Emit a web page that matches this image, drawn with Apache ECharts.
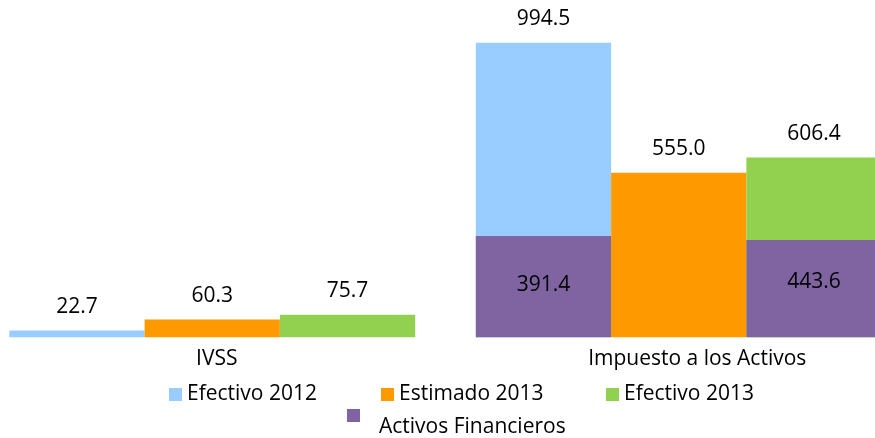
<!DOCTYPE html>
<html>
<head>
<meta charset="utf-8">
<script src="https://cdn.jsdelivr.net/npm/echarts@6/dist/echarts.min.js"></script>
<style>
  html, body { margin: 0; padding: 0; background: #fff; }
  #chart { width: 875px; height: 438px; }
</style>
</head>
<body>
<div id="chart"></div>
<script>
const categories = ['IVSS', 'Impuesto a los Activos'];
const efectivo2012 = [22.7, 994.5];
const estimado2013 = [60.3, 555.0];
const efectivo2013 = [75.7, 606.4];
// printed values of the purple blocks
const activosFinancieros = [391.4, 443.6];
// heights of the purple blocks as they are drawn in the picture (Impuesto only)
const activosBajoEfectivo2012 = [null, 342];
const activosBajoEfectivo2013 = [null, 328];

const font = 'Open Sans';
const chart = echarts.init(document.getElementById('chart'));

const topLabel = {
  show: true,
  position: 'top',
  distance: 13,
  color: '#000',
  fontFamily: font,
  fontSize: 21,
  formatter: (p) => p.value.toFixed(1),
};

const legendBase = {
  orient: 'horizontal',
  padding: 0,
  icon: 'rect',
  itemWidth: 13,
  itemHeight: 13,
  selectedMode: false,
  textStyle: { color: '#000', fontFamily: font, fontSize: 21 },
};

const xAxisBase = {
  type: 'category',
  data: categories,
  axisLine: { show: false },
  axisTick: { show: false },
};

chart.setOption({
  animation: false,
  grid: { left: -21, right: -37, top: 41, bottom: 100.7, outerBoundsMode: 'none', containLabel: false },
  legend: [
    Object.assign({}, legendBase, { left: 169, top: 384, data: ['Efectivo 2012'] }),
    Object.assign({}, legendBase, { left: 381, top: 384, data: ['Estimado 2013'] }),
    Object.assign({}, legendBase, { left: 606, top: 384, data: ['Efectivo 2013'] }),
    Object.assign({}, legendBase, {
      left: 347,
      top: 409,
      data: ['Activos Financieros'],
      formatter: '{t|{name}}',
      textStyle: {
        color: '#000',
        fontFamily: font,
        fontSize: 21,
        rich: {
          t: { color: '#000', fontFamily: font, fontSize: 21, padding: [24, 0, 0, 14] },
        },
      },
    }),
  ],
  xAxis: [
    Object.assign({}, xAxisBase, {
      data: [
        { value: categories[0], textStyle: { padding: [0, 0, 0, 9] } },
        { value: categories[1], textStyle: { padding: [0, 0, 0, 37] } },
      ],
      axisLabel: { color: '#000', fontFamily: font, fontSize: 21, margin: 11 },
    }),
    Object.assign({}, xAxisBase, { show: false }),
  ],
  yAxis: {
    type: 'value',
    min: 0,
    max: 1000,
    show: false,
    splitLine: { show: false },
  },
  series: [
    {
      name: 'Efectivo 2012',
      type: 'bar',
      data: efectivo2012,
      barGap: 0,
      barCategoryGap: '13%',
      itemStyle: { color: '#99CCFF' },
      label: topLabel,
    },
    {
      name: 'Estimado 2013',
      type: 'bar',
      data: estimado2013,
      barGap: 0,
      barCategoryGap: '13%',
      itemStyle: { color: '#FF9900' },
      label: topLabel,
    },
    {
      name: 'Efectivo 2013',
      type: 'bar',
      data: efectivo2013,
      barGap: 0,
      barCategoryGap: '13%',
      itemStyle: { color: '#92D050' },
      label: topLabel,
    },
    // purple blocks drawn over the first and third bar on a hidden twin axis
    {
      name: 'Activos Financieros',
      type: 'bar',
      xAxisIndex: 1,
      data: activosBajoEfectivo2012,
      barGap: 0,
      barCategoryGap: '13%',
      itemStyle: { color: '#8064A2' },
      label: {
        show: true,
        position: 'inside',
        offset: [0, -2],
        color: '#000',
        fontFamily: font,
        fontSize: 21,
        formatter: (p) => activosFinancieros[0].toFixed(1),
      },
    },
    {
      name: '_hueco',
      type: 'bar',
      xAxisIndex: 1,
      data: [null, null],
      barGap: 0,
      barCategoryGap: '13%',
    },
    {
      name: 'Activos Financieros',
      type: 'bar',
      xAxisIndex: 1,
      data: activosBajoEfectivo2013,
      barGap: 0,
      barCategoryGap: '13%',
      itemStyle: { color: '#8064A2' },
      label: {
        show: true,
        position: 'inside',
        offset: [0, -7],
        color: '#000',
        fontFamily: font,
        fontSize: 21,
        formatter: (p) => activosFinancieros[1].toFixed(1),
      },
    },
  ],
});
</script>
</body>
</html>
